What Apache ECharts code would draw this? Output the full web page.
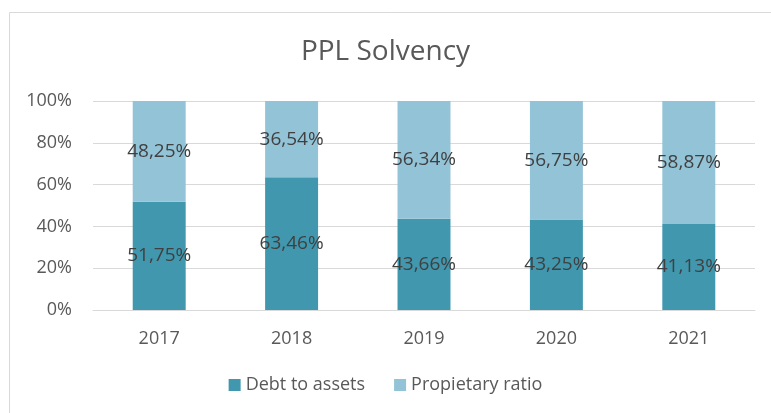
<!DOCTYPE html>
<html>
<head>
<meta charset="utf-8">
<script src="https://cdn.jsdelivr.net/npm/echarts@6/dist/echarts.min.js"></script>
<style>
  html, body { margin: 0; padding: 0; background: #fff; }
  #chart { width: 771px; height: 413px; }
</style>
</head>
<body>
<div id="chart"></div>
<script>
// data
var years = ['2017', '2018', '2019', '2020', '2021'];
var debtToAssets = [51.75, 63.46, 43.66, 43.25, 41.13];
var propietaryRatio = [48.25, 36.54, 56.34, 56.75, 58.87];
var seriesNames = ['Debt to assets', 'Propietary ratio'];

var fontFam = '"Open Sans", "Liberation Sans", sans-serif';

function pctLabel(p) {
  return p.value.toFixed(2).replace('.', ',') + '%';
}

var chart = echarts.init(document.getElementById('chart'));
chart.setOption({
  animation: false,
  backgroundColor: '#fff',
  textStyle: { fontFamily: fontFam },
  title: {
    text: 'PPL Solvency',
    left: 'center',
    top: 33,
    textStyle: { fontFamily: fontFam, fontSize: 28, fontWeight: 'normal', color: '#595959' }
  },
  graphic: [{
    type: 'rect',
    shape: { x: 9.5, y: 12.5, width: 900, height: 600 },
    style: { fill: 'none', stroke: '#D9D9D9', lineWidth: 1 },
    silent: true,
    z: -1
  }],
  legend: {
    data: seriesNames,
    bottom: 14,
    left: 'center',
    itemWidth: 12,
    itemHeight: 12,
    itemGap: 29,
    icon: 'rect',
    textStyle: { fontFamily: fontFam, fontSize: 18, color: '#595959' }
  },
  grid: { left: 93, right: 16, top: 101, bottom: 103, containLabel: false },
  xAxis: {
    type: 'category',
    data: years,
    axisLine: { lineStyle: { color: '#D9D9D9' } },
    axisTick: { show: false },
    axisLabel: { fontFamily: fontFam, fontSize: 18, color: '#595959', margin: 20 }
  },
  yAxis: {
    type: 'value',
    min: 0,
    max: 100,
    interval: 20,
    axisLine: { show: false },
    axisTick: { show: false },
    splitLine: { lineStyle: { color: '#D9D9D9', width: 1 } },
    axisLabel: { fontFamily: fontFam, fontSize: 18, color: '#595959', margin: 21, formatter: '{value}%' }
  },
  series: [
    {
      name: seriesNames[0],
      type: 'bar',
      stack: 'total',
      barWidth: '40%',
      data: debtToAssets,
      itemStyle: { color: '#4097AE' },
      label: { show: true, position: 'inside', formatter: pctLabel, fontFamily: fontFam, fontSize: 19, color: '#404040' }
    },
    {
      name: seriesNames[1],
      type: 'bar',
      stack: 'total',
      barWidth: '40%',
      data: propietaryRatio,
      itemStyle: { color: '#93C3D6' },
      label: { show: true, position: 'inside', formatter: pctLabel, fontFamily: fontFam, fontSize: 19, color: '#404040' }
    }
  ]
});
</script>
</body>
</html>
